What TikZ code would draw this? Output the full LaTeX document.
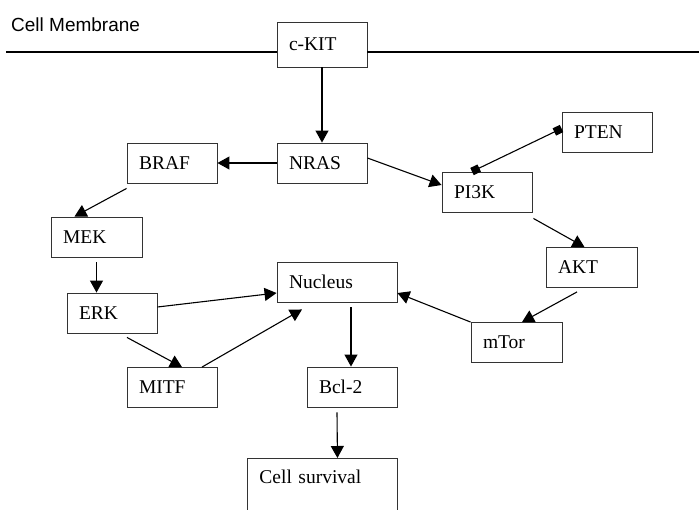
\documentclass[tikz,border=0pt]{standalone}
\usepackage{fontspec}
\setmainfont{Liberation Serif}
\setsansfont{Liberation Sans}
\usetikzlibrary{arrows.meta}

\tikzset{
  box/.style={draw=black!80, line width=0.9pt, minimum height=40pt, text width=#1,
    inner xsep=12pt, inner ysep=0pt, align=left, font=\fontsize{19.5}{23}\selectfont},
  box/.default=66pt,
  act/.style={black, line width=1.1pt, -{Triangle[length=12pt,width=13pt]}},
  inh/.style={black, line width=1.1pt, {Square[length=8pt,width=8pt]}-{Square[length=8pt,width=8pt]}}
}

\begin{document}
\begin{tikzpicture}[x=1pt,y=-1pt]

\clip (0,0) rectangle (699,509);

\coordinate (mL) at (6,52);
\coordinate (mR) at (699,52);

\node[anchor=west, font=\sffamily\fontsize{19}{22}\selectfont, inner sep=0pt] (memb) at (11,25) {Cell Membrane};

\node[box, minimum height=45pt] (ckit) at (322,44.5) {c-KIT};
\node[box] (nras) at (322,163) {NRAS};
\node[box] (braf) at (172,163) {BRAF};
\node[box=67pt] (mek) at (96.5,237) {MEK};
\node[box] (erk) at (112,313) {ERK};
\node[box=96pt] (nucleus) at (337,282) {Nucleus};
\node[box] (mitf) at (172,387.5) {MITF};
\node[box] (bcl) at (352,387) {Bcl-2};
\node[box=126pt, anchor=north west, inner ysep=11pt, text height=14pt, text depth=34pt] (surv) at (247,458) {Cell survival};
\node[box] (pi3k) at (487,192) {PI3K};
\node[box] (pten) at (607,132.5) {PTEN};
\node[box=67pt] (akt) at (591.5,267.5) {AKT};
\node[box=67pt] (mtor) at (516.5,342.5) {mTor};

% membrane
\draw[black, line width=1.1pt] (mL) -- (mL -| ckit.west);
\draw[black, line width=1.1pt] (mR -| ckit.east) -- (mR);

% signalling
\draw[act] (ckit.south) -- (nras.north);
\draw[act] (nras.west) -- (braf.east);
\draw[act] ([yshift=5pt]nras.east) -- ([yshift=7pt]pi3k.west);
\draw[inh] ([yshift=4pt]pten.west) -- ([xshift=-15pt]pi3k.north);
\draw[act] ([shift={(1pt,-6pt)}]pi3k.south east) -- ([xshift=-7pt]akt.north);
\draw[act] ([shift={(-14.5pt,-4pt)}]akt.south) -- ([xshift=5.5pt]mtor.north);
\draw[act] (mtor.north west) -- ([yshift=-11pt]nucleus.east);
\draw[act] ([yshift=-5pt]braf.south west) -- ([xshift=-22pt]mek.north);
\draw[act] ([yshift=-5pt]mek.south) -- (mek.south |- erk.north);
\draw[act] ([yshift=6pt]erk.east) -- ([yshift=-11pt]nucleus.west);
\draw[act] ([shift={(15pt,-4pt)}]erk.south) -- ([xshift=10pt]mitf.north);
\draw[act] ([xshift=30pt]mitf.north) -- ([shift={(-35pt,-7pt)}]nucleus.south);
\draw[act] ([shift={(14pt,-5pt)}]nucleus.south) -- ([xshift=-1pt]bcl.north);
\draw[act] ([shift={(-15pt,-5pt)}]bcl.south) -- ([xshift=15pt]surv.north);

\end{tikzpicture}
\end{document}
